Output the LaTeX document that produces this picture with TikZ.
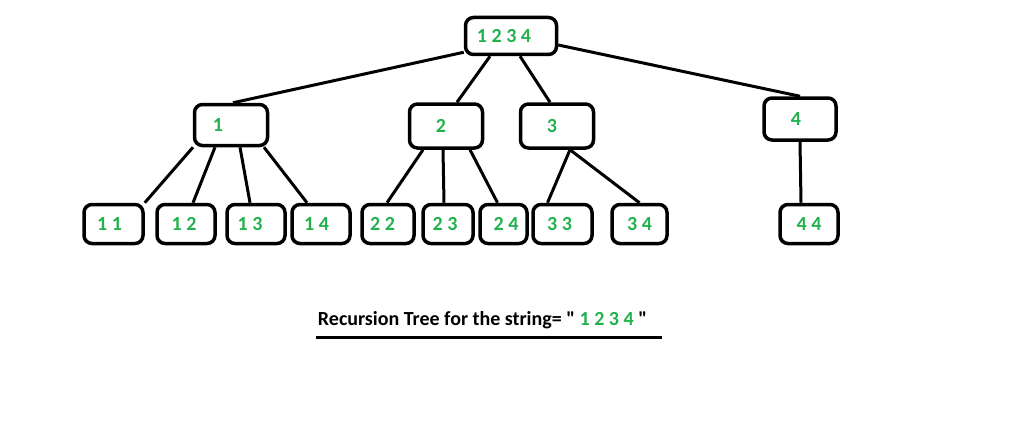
\documentclass[tikz,border=0pt]{standalone}
\usepackage{fontspec}
\newfontfamily\calfont{Carlito}
\usetikzlibrary{positioning}

\definecolor{paintgreen}{RGB}{34,177,76}

\tikzset{
  treebox/.style={draw, line width=3.5pt, rounded corners=8pt, inner sep=0pt,
    text=paintgreen, font=\calfont\bfseries\fontsize{20}{24}\selectfont},
  treeedge/.style={line width=3pt},
}

\begin{document}
\begin{tikzpicture}[x=1pt, y=-1pt]
    \useasboundingbox (0,0) rectangle (1024,420);

    % root
    \node (Root) [treebox, minimum width=91pt, minimum height=37pt] at (511,36) {1 2 3 4\hspace*{14pt}};

    % first level
    \node (One)   [treebox, minimum width=73pt, minimum height=41pt] at (231,125) {1\hspace*{26pt}};
    \node (Two)   [treebox, minimum width=73pt, minimum height=44pt] at (446,126) {2\hspace*{10pt}};
    \node (Three) [treebox, minimum width=73pt, minimum height=44pt] at (557,126) {3\hspace*{10pt}};
    \node (Four)  [treebox, minimum width=72pt, minimum height=42pt] at (800,119) {4\hspace*{8pt}};

    % second level
    \node (OneOne)     [treebox, minimum width=59pt, minimum height=39pt] at (113.5,224) {1 1\hspace*{8pt}};
    \node (OneTwo)     [treebox, minimum width=58pt, minimum height=39pt] at (186,224) {1 2\hspace*{4pt}};
    \node (OneThree)   [treebox, minimum width=58pt, minimum height=39pt] at (256,224) {1 3\hspace*{12pt}};
    \node (OneFour)    [treebox, minimum width=58pt, minimum height=39pt] at (321,224) {1 4\hspace*{9pt}};
    \node (TwoTwo)     [treebox, minimum width=52pt, minimum height=39pt] at (388,224) {2 2\hspace*{11pt}};
    \node (TwoThree)   [treebox, minimum width=50pt, minimum height=39pt] at (448,224) {2 3\hspace*{6pt}};
    \node (TwoFour)    [treebox, minimum width=47pt, minimum height=39pt] at (503.5,224) {\hspace*{5pt}2 4};
    \node (ThreeThree) [treebox, minimum width=59pt, minimum height=39pt] at (562.5,224) {3 3\hspace*{6pt}};
    \node (ThreeFour)  [treebox, minimum width=55pt, minimum height=39pt] at (639.5,224) {3 4};
    \node (FourFour)   [treebox, minimum width=58pt, minimum height=39pt] at (809,224) {4 4};

    \draw[treeedge] ([yshift=4pt]Root.south west) -- ([xshift=2pt]One.north);
    \draw[treeedge] ([xshift=-21pt]Root.south) -- ([xshift=11pt]Two.north);
    \draw[treeedge] ([xshift=9pt]Root.south) -- ([xshift=-7pt]Three.north);
    \draw[treeedge] ([yshift=-9pt]Root.east) -- (Four.north);

    \draw[treeedge] ([xshift=-38pt]One.south) -- (OneOne.north east);
    \draw[treeedge] ([xshift=-16pt]One.south) -- ([xshift=7pt]OneTwo.north);
    \draw[treeedge] ([xshift=9pt]One.south) -- ([xshift=-6pt]OneThree.north);
    \draw[treeedge] ([xshift=33pt]One.south) -- ([xshift=-14pt]OneFour.north);

    \draw[treeedge] ([xshift=-23pt]Two.south) -- ([xshift=-1pt]TwoTwo.north);
    \draw[treeedge] ([xshift=-3pt]Two.south) -- ([xshift=-4pt]TwoThree.north);
    \draw[treeedge] ([xshift=24pt]Two.south) -- ([xshift=-6pt]TwoFour.north);

    \draw[treeedge] ([xshift=13pt]Three.south) -- ([xshift=-15pt]ThreeThree.north);
    \draw[treeedge] ([xshift=13pt]Three.south) -- (ThreeFour.north);

    \draw[treeedge] (Four.south) -- ([xshift=-8pt]FourFour.north);

    % caption
    \node (Caption) [inner sep=0pt, font=\calfont\bfseries\fontsize{20}{24}\selectfont] at (482.5,320)
      {Recursion Tree for the string= " \textcolor{paintgreen}{1 2 3 4} "};
    \draw[treeedge] ([xshift=-2pt,yshift=-9pt]Caption.south west) -- ([xshift=15pt,yshift=-9pt]Caption.south east);

\end{tikzpicture}
\end{document}
